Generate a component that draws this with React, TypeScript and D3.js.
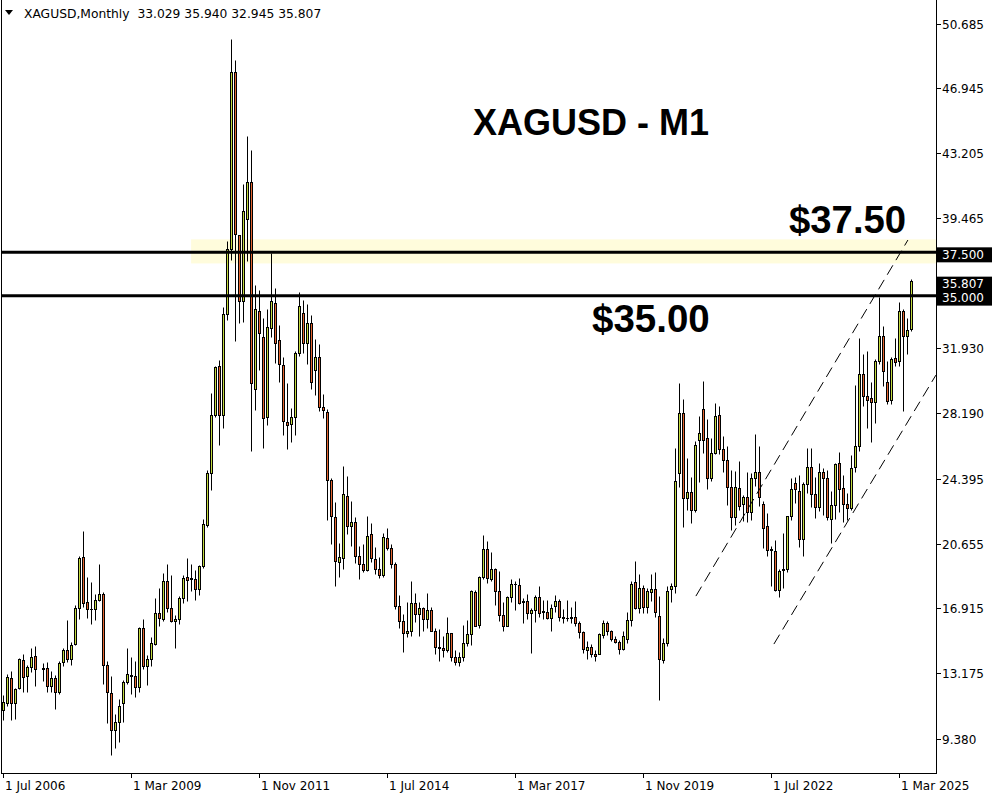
import React from "react";
import * as d3 from "d3";

// ---------- data ----------
const symbolTitle = "XAGUSD,Monthly";
const headerValues = ["33.029", "35.940", "32.945", "35.807"];
const startMonth = new Date(2006, 6, 1); // first bar: Jul 2006
const endMonth = new Date(2025, 6, 1); // exclusive: last bar Jun 2025

const open: (number | null)[] = [
  11.03, 11.46, 12.9, 11.46, 12.3, 13.94, 13.0, 13.53, 14.19, null,
  13.42, 13.47, 12.42, 12.9, 12.09, 13.8, 14.51, 13.99, 14.84, 16.94,
  19.88, 17.29, 16.88, 16.88, 17.4, 17.77, 13.63, 12.03, 9.91, 10.36,
  11.46, 12.67, 12.98, 13.0, 12.38, 15.75, 13.57, 13.96, 14.88, 16.65,
  16.27, 18.52, 16.94, 16.2, 16.3, 17.51, 18.72, 18.65, 18.6, 18.03,
  19.34, 21.71, 24.74, 28.09, 30.93, 28.09, 33.91, 37.66, 47.89, 38.45,
  34.64, 39.4, 41.54, 29.6, 34.07, 32.6, 27.97, 33.1, 34.55, 32.4,
  30.97, 27.7, 27.57, 27.97, 31.66, 33.97, 32.24, 33.4, 30.65, 31.43,
  28.55, 28.26, 24.35, 22.2, 19.58, 19.83, 23.41, 21.66, 21.9, 19.93,
  19.49, 19.12, 21.2, 19.78, 19.2, 18.86, 21.0, 20.4, 19.49, 17.05,
  16.2, 15.5, 15.6, 17.2, 16.6, 16.95, 16.3, 16.8, 15.6, 14.7,
  14.6, 14.5, 15.5, 14.1, 13.8, 14.1, 14.91, 15.43, 17.84, 15.97,
  18.73, 20.35, 18.61, 19.19, 17.94, 16.52, 15.91, 17.57, 18.34, 18.28,
  17.26, 17.36, 16.65, 16.8, 17.57, 16.75, 16.72, 16.38, 17.03, 17.36,
  16.4, 16.36, 16.4, 16.4, 16.07, 15.53, 14.49, 14.68, 14.28, 14.28,
  15.4, 16.07, 15.63, 15.15, 14.97, 14.57, 15.15, 16.26, 18.42, 16.96,
  18.09, 17.0, 17.84, 18.03, 16.45, 13.95, 14.91, 18.03, 18.19, 24.73,
  28.2, 23.29, 23.64, 22.62, 26.66, 28.42, 26.75, 24.44, 25.89, 28.1,
  26.12, 25.5, 23.93, 22.2, 23.87, 22.91, 23.36, 22.47, 24.44, 24.77,
  22.91, 21.65, 20.3, 20.2, 17.99, 19.15, 19.18, 22.23, 24.16, 23.68,
  20.92, 24.12, 25.08, 23.54, 22.77, 24.77, 24.44, 22.1, 22.9, 25.31,
  23.87, 22.96, 22.69, 25.08, 26.27, 30.47, 29.16, 29.06, 28.84, 31.18,
  32.66, 29.97, 28.93, 31.37, 31.18, 34.11, 32.63, 33.029,
];

const high: (number | null)[] = [
  11.9, 13.15, 13.28, 12.32, 14.03, 14.25, 13.65, 14.6, 14.73, null,
  13.75, 13.82, 13.3, 13.09, 13.86, 14.6, 16.26, 14.96, 17.08, 19.96,
  21.4, 18.73, 18.42, 17.77, 19.5, 17.85, 13.9, 13.03, 10.84, 11.7,
  12.8, 14.6, 14.1, 13.86, 15.85, 16.27, 14.2, 15.26, 17.5, 18.09,
  18.96, 19.48, 18.85, 16.5, 17.65, 18.81, 19.82, 19.48, 19.12, 19.44,
  22.08, 24.93, 29.36, 30.9, 31.28, 34.3, 38.14, 49.79, 48.6, 38.5,
  41.44, 44.21, 43.4, 35.6, 35.3, 33.69, 34.17, 37.44, 35.4, 33.3,
  31.4, 29.93, 28.5, 31.76, 35.2, 34.7, 34.5, 33.88, 32.47, 32.2,
  29.3, 28.4, 24.45, 23.07, 20.66, 25.16, 24.54, 23.12, 22.16, 20.5,
  20.64, 22.24, 21.82, 20.44, 19.9, 21.24, 21.57, 20.6, 19.6, 17.7,
  16.6, 17.3, 18.5, 17.8, 17.3, 17.0, 17.8, 17.0, 15.8, 15.7,
  15.3, 16.4, 15.5, 14.5, 14.4, 15.98, 16.23, 18.0, 18.0, 18.77,
  21.17, 20.83, 20.15, 19.25, 19.06, 17.27, 17.65, 18.58, 18.52, 18.67,
  17.52, 17.77, 16.94, 17.71, 18.23, 17.42, 17.42, 17.19, 17.71, 17.46,
  16.88, 17.42, 16.98, 17.36, 16.17, 15.6, 15.02, 14.86, 14.53, 15.5,
  16.23, 16.21, 15.69, 15.3, 15.07, 15.59, 16.69, 18.48, 19.67, 18.9,
  18.26, 18.09, 18.9, 19.03, 17.6, 15.2, 18.19, 18.38, 26.18, 29.9,
  29.0, 25.6, 24.5, 26.6, 28.0, 30.03, 27.85, 26.75, 28.77, 28.6,
  26.85, 26.27, 24.9, 24.83, 25.41, 23.48, 24.8, 24.7, 26.97, 26.3,
  23.1, 22.42, 20.5, 20.87, 19.2, 21.26, 22.25, 24.45, 24.51, 24.64,
  24.2, 26.18, 26.18, 24.5, 25.31, 25.02, 24.93, 23.7, 25.3, 25.93,
  24.6, 23.58, 25.79, 29.8, 32.53, 31.6, 31.75, 30.0, 31.3, 34.9,
  33.2, 31.2, 31.4, 32.5, 34.6, 34.2, 33.7, 35.94,
];

const low: (number | null)[] = [
  10.49, 11.26, 10.45, 10.55, 12.23, 12.07, 12.07, 13.23, 12.42, null,
  12.7, 12.11, 12.1, 11.09, 11.95, 13.6, 13.8, 13.63, 14.77, 16.27,
  17.0, 16.34, 15.99, 16.23, 17.33, 12.55, 10.3, 8.46, 8.84, 9.18,
  10.34, 12.55, 11.99, 11.8, 12.07, 13.4, 12.47, 13.57, 14.8, 15.9,
  16.2, 16.69, 16.1, 14.65, 16.0, 17.2, 17.35, 17.9, 17.42, 17.71,
  19.25, 21.6, 23.72, 27.97, 26.37, 27.3, 33.55, 37.05, 32.33, 33.4,
  33.43, 36.96, 26.02, 28.39, 30.66, 26.18, 27.5, 32.6, 31.1, 30.0,
  26.9, 26.12, 26.5, 26.95, 31.5, 31.63, 31.0, 29.6, 29.24, 28.32,
  27.91, 22.04, 20.6, 18.23, 18.71, 19.2, 21.18, 20.5, 19.54, 18.61,
  19.0, 19.05, 19.58, 18.92, 18.67, 18.7, 20.28, 19.26, 16.9, 15.75,
  14.4, 15.25, 15.3, 16.1, 15.3, 15.6, 15.8, 15.6, 14.3, 13.9,
  14.1, 14.4, 13.9, 13.65, 13.6, 13.9, 14.73, 14.77, 15.88, 15.79,
  18.6, 18.38, 18.5, 17.1, 16.17, 15.63, 15.88, 17.27, 16.81, 17.19,
  16.07, 16.27, 14.34, 16.11, 16.4, 16.27, 16.27, 15.59, 16.73, 16.17,
  16.07, 16.17, 16.07, 15.92, 15.21, 14.34, 13.96, 14.11, 13.88, 14.25,
  15.21, 15.4, 15.05, 14.9, 14.28, 14.53, 14.92, 15.88, 16.89, 16.66,
  16.63, 16.62, 17.36, 16.41, 11.6, 13.76, 14.72, 17.26, 17.8, 23.94,
  21.63, 22.6, 21.87, 22.5, 24.19, 25.89, 23.8, 24.25, 25.8, 25.85,
  24.8, 22.9, 21.46, 21.7, 22.6, 21.94, 21.9, 22.0, 24.0, 22.8,
  20.4, 19.94, 18.2, 17.9, 17.56, 18.09, 19.0, 22.0, 23.0, 20.45,
  19.95, 23.6, 22.78, 22.15, 22.53, 22.28, 22.0, 20.69, 22.1, 22.47,
  21.9, 22.04, 22.62, 24.77, 26.0, 28.6, 27.3, 26.5, 27.6, 31.0,
  29.75, 28.7, 28.7, 30.9, 30.9, 28.3, 31.6, 32.945,
];

const close: (number | null)[] = [
  11.49, 12.96, 11.46, 12.26, 13.99, 12.96, 13.55, 14.13, 13.42, null,
  13.45, 12.41, 12.9, 12.09, 13.76, 14.51, 13.99, 14.8, 16.94, 19.83,
  17.23, 16.88, 16.9, 17.4, 17.77, 13.63, 12.07, 9.91, 10.36, 11.26,
  12.67, 13.15, 13.05, 12.38, 15.75, 13.57, 13.96, 14.92, 16.65, 16.34,
  18.52, 16.94, 16.2, 16.3, 17.52, 18.67, 18.57, 18.6, 18.03, 19.38,
  21.79, 24.74, 28.09, 30.86, 28.09, 33.91, 37.66, 47.89, 38.55, 34.64,
  39.88, 41.54, 29.93, 34.2, 32.82, 27.88, 33.14, 34.64, 32.24, 31.05,
  27.72, 27.5, 27.97, 31.66, 34.4, 32.24, 33.4, 30.0, 31.43, 28.55,
  28.37, 24.35, 22.24, 19.64, 19.89, 23.53, 21.66, 21.9, 19.93, 19.49,
  19.15, 21.09, 19.8, 19.2, 18.86, 21.05, 20.4, 19.49, 17.05, 16.2,
  15.5, 15.6, 17.2, 16.6, 16.95, 16.3, 16.8, 15.6, 14.7, 14.6,
  14.5, 15.5, 14.1, 13.8, 14.1, 14.91, 15.45, 17.9, 15.91, 18.73,
  20.35, 18.67, 19.19, 17.9, 16.52, 15.88, 17.57, 18.34, 18.3, 17.22,
  17.32, 16.65, 16.84, 17.57, 16.65, 16.68, 16.38, 16.92, 17.36, 16.4,
  16.34, 16.38, 16.34, 16.05, 15.53, 14.57, 14.67, 14.26, 14.15, 15.45,
  16.07, 15.59, 15.15, 14.97, 14.57, 15.34, 16.26, 18.32, 16.96, 18.09,
  17.0, 17.9, 18.03, 16.68, 13.99, 14.91, 17.9, 18.19, 24.25, 28.2,
  23.29, 23.64, 22.62, 26.37, 27.04, 26.62, 24.44, 25.89, 28.04, 26.12,
  25.5, 23.93, 22.2, 23.93, 22.81, 23.36, 22.47, 24.46, 24.77, 23.34,
  21.56, 20.27, 20.35, 17.99, 19.05, 19.18, 22.23, 23.81, 23.78, 20.92,
  24.12, 25.08, 23.54, 22.77, 24.77, 24.44, 22.19, 22.9, 25.25, 23.81,
  22.96, 22.69, 25.02, 26.27, 30.42, 29.16, 28.93, 28.8, 31.22, 32.66,
  30.6, 28.87, 31.34, 31.14, 34.11, 32.63, 33.01, 35.807,
];

const yTicks = [50.685, 46.945, 43.205, 39.465, 31.93, 28.19, 24.395, 20.655, 16.915, 13.175, 9.38];
const xTickLabels = ["1 Jul 2006", "1 Mar 2009", "1 Nov 2011", "1 Jul 2014", "1 Mar 2017", "1 Nov 2019", "1 Jul 2022", "1 Mar 2025"];
const levels = [37.5, 35.0];
const levelTexts = ["$37.50", "$35.00"];
const lastPrice = 35.807;
const zoneLow = 36.86;
const zoneHigh = 38.25;
const zoneStartBar = 46.9;
// channel anchors: [bar index, price]
const upperChannel: [number, number][] = [[173.1, 17.65], [226.1, 38.21]];
const lowerChannel: [number, number][] = [[192.6, 14.88], [233.1, 30.41]];
const chartTitle = "XAGUSD - M1";

// ---------- component ----------
const BULL = "#C3DA3E";
const BEAR = "#E4642F";
const AXIS_FONT = "'DejaVu Sans', Tahoma, sans-serif";
const BIG_FONT = "'Liberation Sans', Arial, sans-serif";

export default function App() {
  const W = 1000;
  const H = 800;
  const left = 1;
  const right = 936;
  const bottom = 773;

  const months = d3.timeMonth.range(startMonth, endMonth);
  const n = months.length;
  const x = d3.scaleLinear().domain([0, n - 1]).range([3.5, 3.5 + 4 * (n - 1)]);
  const y = d3.scaleLinear().domain([9.38, 50.685]).range([739.3, 24]);
  const snap = (v: number) => Math.round(v - 0.5) + 0.5;

  const parse = d3.timeParse("%d %b %Y");
  const xTicks = xTickLabels.map((lab) => {
    const d = parse(lab) as Date;
    return { lab, i: d3.timeMonth.count(startMonth, d) };
  });

  const line = d3
    .line<[number, number]>()
    .x((d) => x(d[0]))
    .y((d) => y(d[1]));

  const candles = months.map((m, i) => {
    const o = open[i], h = high[i], l = low[i], c = close[i];
    if (o == null || h == null || l == null || c == null) return null;
    const cx = x(i);
    const yh = snap(y(h));
    const yl = snap(y(l));
    const yo = snap(y(o));
    const yc = snap(y(c));
    const top = Math.min(yo, yc);
    const bot = Math.max(yo, yc);
    const bull = c >= o;
    return (
      <g key={i}>
        <line x1={cx} x2={cx} y1={yh} y2={yl} stroke="#000" strokeWidth={1} />
        {bot - top < 1 ? (
          <line x1={cx - 1.5} x2={cx + 1.5} y1={top} y2={top} stroke="#000" strokeWidth={1} />
        ) : (
          <rect x={cx - 1} y={top} width={2} height={bot - top} fill={bull ? BULL : BEAR} stroke="#000" strokeWidth={1} />
        )}
      </g>
    );
  });

  return (
    <svg
      width={W}
      height={H}
      viewBox={`0 0 ${W} ${H}`}
      style={{ position: "fixed", left: 0, top: 0, background: "#fff" }}
    >
      <defs>
        <clipPath id="plot">
          <rect x={left} y={0} width={right - left} height={bottom} />
        </clipPath>
      </defs>
      <rect x={0} y={0} width={W} height={H} fill="#fff" />

      {/* highlighted zone */}
      <rect
        x={x(zoneStartBar)}
        y={y(zoneHigh)}
        width={right - x(zoneStartBar)}
        height={y(zoneLow) - y(zoneHigh)}
        fill="#FFFCDC"
      />

      {/* big annotations */}
      <text x={473} y={135} fontFamily={BIG_FONT} fontWeight="bold" fontSize={36} fill="#000">
        {chartTitle}
      </text>
      <text x={789} y={233} fontFamily={BIG_FONT} fontWeight="bold" fontSize={38.3} fill="#000">
        {levelTexts[0]}
      </text>
      <text x={592} y={332} fontFamily={BIG_FONT} fontWeight="bold" fontSize={38.5} fill="#000">
        {levelTexts[1]}
      </text>

      <g clipPath="url(#plot)">{candles}</g>

      {/* horizontal levels */}
      {levels.map((lv, k) => (
        <line key={k} x1={left} x2={right} y1={y(lv)} y2={y(lv)} stroke="#000" strokeWidth={3} />
      ))}

      {/* channel */}
      <g clipPath="url(#plot)">
        <path d={line(upperChannel) || ""} fill="none" stroke="#000" strokeWidth={1} strokeDasharray="11,6" />
        <path d={line(lowerChannel) || ""} fill="none" stroke="#000" strokeWidth={1} strokeDasharray="11,6" />
      </g>

      {/* frame */}
      <line x1={left + 0.5} x2={left + 0.5} y1={0} y2={bottom} stroke="#000" />
      <line x1={right + 0.5} x2={right + 0.5} y1={0} y2={bottom + 0.5} stroke="#000" />
      <line x1={left} x2={right + 1} y1={bottom + 0.5} y2={bottom + 0.5} stroke="#000" />

      {/* y axis */}
      {yTicks.map((t) => {
        const yy = snap(y(t));
        return (
          <g key={t}>
            <line x1={right + 1} x2={right + 5} y1={yy} y2={yy} stroke="#000" />
            <text x={942} y={yy} dy="0.36em" fontFamily={AXIS_FONT} fontSize={12} fill="#000">
              {t.toFixed(3)}
            </text>
          </g>
        );
      })}
      {[...levels, lastPrice].map((lv) => {
        const yy = y(lv) + 2.5;
        return (
          <g key={"b" + lv}>
            <rect x={right} y={yy - 7.5} width={56} height={15} fill="#000" />
            <text x={942} y={yy} dy="0.36em" fontFamily={AXIS_FONT} fontSize={12} fill="#fff">
              {lv.toFixed(3)}
            </text>
          </g>
        );
      })}

      {/* x axis */}
      {xTicks.map((t) => {
        const xx = x(t.i);
        return (
          <g key={t.lab}>
            <line x1={xx} x2={xx} y1={bottom} y2={bottom + 5} stroke="#000" />
            <text x={xx + 1.5} y={790} fontFamily={AXIS_FONT} fontSize={12} fill="#000">
              {t.lab}
            </text>
          </g>
        );
      })}

      {/* header */}
      <path d="M5,10 L13,10 L9,15 Z" fill="#000" />
      <text x={24} y={18} fontFamily={AXIS_FONT} fontSize={12.3} fill="#000" style={{ whiteSpace: "pre" }}>
        {`${symbolTitle}  ${headerValues.join(" ")}`}
      </text>
    </svg>
  );
}
